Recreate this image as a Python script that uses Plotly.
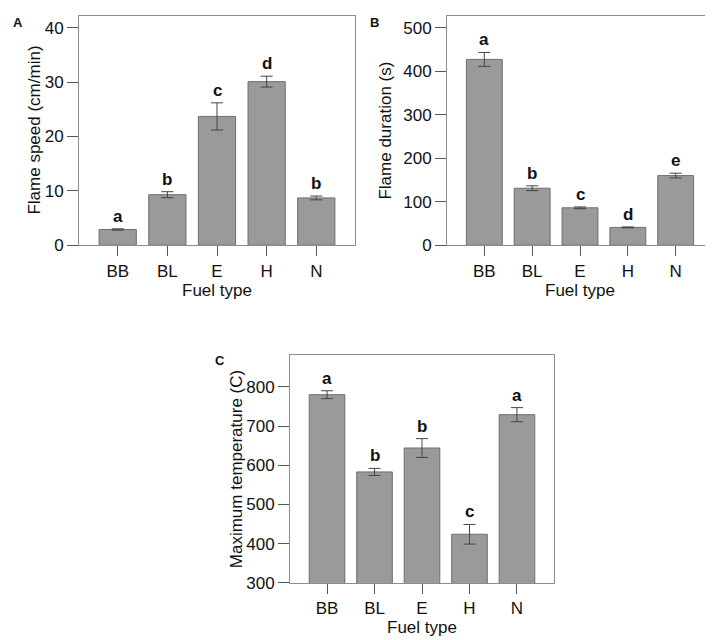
import plotly.graph_objects as go

fuel = ["BB", "BL", "E", "H", "N"]

speed = [2.9, 9.3, 23.7, 30.1, 8.7]
speed_err = [0.12, 0.55, 2.5, 1.0, 0.35]
speed_letters = ["a", "b", "c", "d", "b"]

duration = [427, 131, 86, 41, 160]
duration_err = [16, 5.5, 2, 1, 5.5]
duration_letters = ["a", "b", "c", "d", "e"]

temperature = [780, 583, 644, 424, 729]
temperature_err = [10, 9, 24, 25, 18]
temperature_letters = ["a", "b", "b", "c", "a"]

FONT = "Liberation Sans, Arial, Helvetica, sans-serif"
BAR = "#9a9a9a"
EDGE = "#6e6e6e"
FRAME = "#8c8c8c"
DARK = "#555555"

W, H = 713, 640

def px_x(a, b):
    return [a / W, b / W]

def px_y(top, bottom):
    return [1 - bottom / H, 1 - top / H]

panels = [
    dict(vals=speed, err=speed_err, let=speed_letters, xd=px_x(71, 347), yd=px_y(8, 241),
         yr=[0, 42.2], tv=[0, 10, 20, 30, 40], title="Flame speed (cm/min)", tx=27, lab="A", lx=10, ly=15),
    dict(vals=duration, err=duration_err, let=duration_letters, xd=px_x(439, 705), yd=px_y(8, 241),
         yr=[0, 527], tv=[0, 100, 200, 300, 400, 500], title="Flame duration (s)", tx=378, lab="B", lx=367, ly=15),
    dict(vals=temperature, err=temperature_err, let=temperature_letters, xd=px_x(282, 546), yd=px_y(353, 584),
         yr=[300, 880], tv=[300, 400, 500, 600, 700, 800], title="Maximum temperature (C)", tx=228, lab="C", lx=212, ly=358),
]

fig = go.Figure()
annotations = []
for i, p in enumerate(panels):
    n = "" if i == 0 else str(i + 1)
    fig.add_trace(go.Bar(
        x=fuel, y=p["vals"], xaxis="x" + n, yaxis="y" + n,
        marker=dict(color=BAR, line=dict(color=EDGE, width=1)),
        width=0.75,
        error_y=dict(type="data", array=p["err"], color="#444444", thickness=1, width=6),
        showlegend=False,
    ))
    fig.update_layout(**{
        "xaxis" + n: dict(domain=p["xd"], anchor="y" + n, range=[-0.78, 4.78],
                          showline=True, mirror=True, linecolor=FRAME, linewidth=1,
                          ticks="outside", ticklen=10, tickcolor=DARK, tickwidth=1,
                          tickfont=dict(family=FONT, size=17, color="#111"),
                          title=dict(text="Fuel type", font=dict(family=FONT, size=17, color="#111"), standoff=3),
                          showgrid=False, zeroline=False, fixedrange=True),
        "yaxis" + n: dict(domain=p["yd"], anchor="x" + n, range=p["yr"], tickvals=p["tv"],
                          showline=True, mirror=True, linecolor=FRAME, linewidth=1,
                          ticks="outside", ticklen=11, tickcolor=DARK, tickwidth=1,
                          tickfont=dict(family=FONT, size=17, color="#111"),
                          showgrid=False, zeroline=False, fixedrange=True),
    })
    for f, v, e, l in zip(fuel, p["vals"], p["err"], p["let"]):
        annotations.append(dict(x=f, y=v + e, xref="x" + n, yref="y" + n, text="<b>%s</b>" % l,
                                showarrow=False, yanchor="bottom", yshift=1,
                                font=dict(family=FONT, size=17, color="#111")))
    ymid = (p["yd"][0] + p["yd"][1]) / 2
    annotations.append(dict(x=p["tx"] / W, y=ymid, xref="paper", yref="paper", text=p["title"],
                            textangle=-90, showarrow=False, xanchor="center", yanchor="middle",
                            font=dict(family=FONT, size=17, color="#111")))
    annotations.append(dict(x=p["lx"] / W, y=1 - p["ly"] / H, xref="paper", yref="paper",
                            text="<b>%s</b>" % p["lab"], showarrow=False, xanchor="center", yanchor="middle",
                            font=dict(family=FONT, size=13, color="#111")))

fig.update_layout(width=W, height=H, margin=dict(l=0, r=0, t=0, b=0),
                  plot_bgcolor="white", paper_bgcolor="white",
                  annotations=annotations, bargap=0.25)
fig.write_html("out.html")
